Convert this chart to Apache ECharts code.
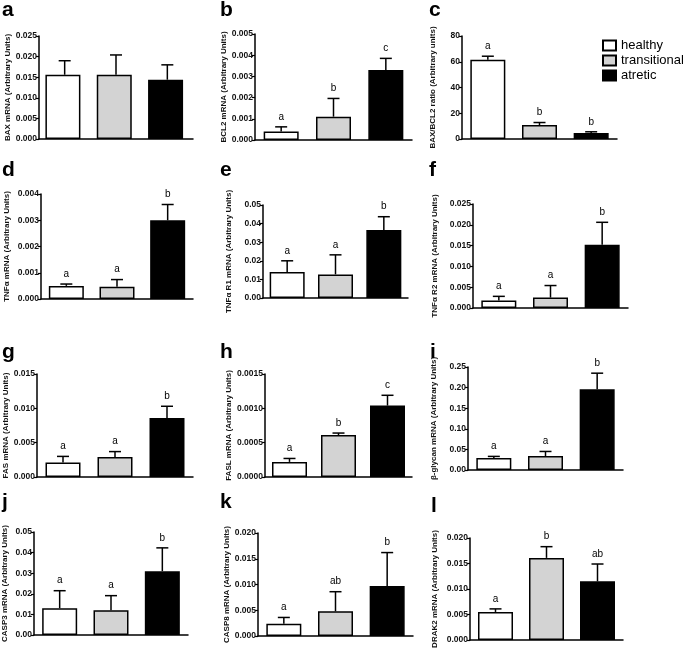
<!DOCTYPE html>
<html>
<head>
<meta charset="utf-8">
<script src="https://cdn.jsdelivr.net/npm/echarts@6/dist/echarts.min.js"></script>
<style>html,body{margin:0;padding:0;background:#fff}#c{width:685px;height:652px}</style>
</head>
<body>
<div id="c"></div>
<script>
// ---------------- data ----------------
const categories = ['healthy', 'transitional', 'atretic'];
const panelLetters = ['a','b','c','d','e','f','g','h','i','j','k','l'];
const yTitles = [
  'BAX mRNA (Arbitrary Units)',
  'BCL2 mRNA (Arbitrary Units)',
  'BAX/BCL2 ratio (Arbitrary units)',
  'TNFα mRNA (Arbitrary Units)',
  'TNFα R1 mRNA (Arbitrary Units)',
  'TNFα R2 mRNA (Arbitrary Units)',
  'FAS mRNA (Arbitrary Units)',
  'FASL mRNA (Arbitrary Units)',
  'β-glycan mRNA (Arbitrary Units)',
  'CASP3 mRNA (Arbitrary Units)',
  'CASP8 mRNA (Arbitrary Units)',
  'DRAK2 mRNA (Arbitrary Units)'
];
// tick settings: [max, interval, decimals]
const yTicks = [
  [0.025, 0.005, 3],
  [0.005, 0.001, 3],
  [80, 20, 0],
  [0.004, 0.001, 3],
  [0.05, 0.01, 2],
  [0.025, 0.005, 3],
  [0.015, 0.005, 3],
  [0.0015, 0.0005, 4],
  [0.25, 0.05, 2],
  [0.05, 0.01, 2],
  [0.020, 0.005, 3],
  [0.020, 0.005, 3]
];
const baxMean = [0.0156, 0.0156, 0.0144];   const baxSem = [0.0034, 0.0048, 0.0036];   const baxSig = ['', '', ''];
const bcl2Mean = [0.0004, 0.0011, 0.0033];  const bcl2Sem = [0.00022, 0.00086, 0.00055]; const bcl2Sig = ['a', 'b', 'c'];
const ratioMean = [61.5, 10.8, 4.6];        const ratioSem = [2.8, 2.0, 1.0];            const ratioSig = ['a', 'b', 'b'];
const tnfMean = [0.0005, 0.00047, 0.0030];  const tnfSem = [0.00007, 0.00027, 0.0006];  const tnfSig = ['a', 'a', 'b'];
const tnfr1Mean = [0.0140, 0.0127, 0.0365]; const tnfr1Sem = [0.0060, 0.0105, 0.0072]; const tnfr1Sig = ['a', 'a', 'b'];
const tnfr2Mean = [0.0018, 0.0025, 0.0152]; const tnfr2Sem = [0.0010, 0.0029, 0.0054]; const tnfr2Sig = ['a', 'a', 'b'];
const fasMean = [0.0021, 0.0029, 0.0086];   const fasSem = [0.0009, 0.0008, 0.0017];    const fasSig = ['a', 'a', 'b'];
const faslMean = [0.00022, 0.00061, 0.00104]; const faslSem = [0.00005, 0.00003, 0.00015]; const faslSig = ['a', 'b', 'c'];
const bglyMean = [0.029, 0.034, 0.196];     const bglySem = [0.004, 0.011, 0.039];      const bglySig = ['a', 'a', 'b'];
const casp3Mean = [0.013, 0.012, 0.031];    const casp3Sem = [0.0085, 0.0071, 0.0113];  const casp3Sig = ['a', 'a', 'b'];
const casp8Mean = [0.0024, 0.0048, 0.0097]; const casp8Sem = [0.0012, 0.0038, 0.0065];  const casp8Sig = ['a', 'ab', 'b'];
const drak2Mean = [0.0055, 0.0161, 0.0115]; const drak2Sem = [0.0006, 0.0022, 0.0034]; const drak2Sig = ['a', 'b', 'ab'];

const means = [baxMean, bcl2Mean, ratioMean, tnfMean, tnfr1Mean, tnfr2Mean, fasMean, faslMean, bglyMean, casp3Mean, casp8Mean, drak2Mean];
const sems  = [baxSem, bcl2Sem, ratioSem, tnfSem, tnfr1Sem, tnfr2Sem, fasSem, faslSem, bglySem, casp3Sem, casp8Sem, drak2Sem];
const sigs  = [baxSig, bcl2Sig, ratioSig, tnfSig, tnfr1Sig, tnfr2Sig, fasSig, faslSig, bglySig, casp3Sig, casp8Sig, drak2Sig];

// ---------------- layout ----------------
// [axisX, axisEndX, topY, bottomY, nameGap, letterX, letterY]
const layout = [
  [39, 193, 36, 139, 27, 2, 0],
  [255, 412, 34, 140, 24, 220, 0],
  [462, 617, 36, 139, 25, 429, 0],
  [41, 193, 194, 299, 30, 2, 160],
  [263, 408, 205, 298, 30, 220, 160],
  [473, 628, 204, 308, 34, 429, 160],
  [37, 193, 374, 477, 27, 2, 342],
  [265, 412, 374, 477, 32, 220, 342],
  [468, 623, 367, 470, 30, 430, 342],
  [32, 188, 532, 635, 25, 2, 492],
  [258, 413, 533, 636, 27, 220, 492],
  [470, 623, 538, 640, 31, 431, 496]
];
const colors = ['#ffffff', '#d3d3d3', '#000000'];
const FONT = '"Liberation Sans", Arial, sans-serif';

const grids = [], xAxes = [], yAxes = [], series = [], titles = [];
layout.forEach((L, i) => {
  grids.push({left: L[0], top: L[2], width: L[1] - L[0], height: L[3] - L[2], containLabel: false});
  xAxes.push({
    gridIndex: i, type: 'category', data: categories,
    axisLine: {lineStyle: {color: '#000', width: 1.5}},
    axisTick: {alignWithLabel: true, length: 3, lineStyle: {color: '#000', width: 1.5}},
    axisLabel: {show: false}
  });
  const T = yTicks[i];
  yAxes.push({
    gridIndex: i, type: 'value', min: 0, max: T[0], interval: T[1],
    axisLine: {show: true, lineStyle: {color: '#000', width: 1.5}},
    axisTick: {show: true, length: 3, lineStyle: {color: '#000', width: 1.2}},
    splitLine: {show: false},
    axisLabel: {formatter: v => v.toFixed(T[2]), fontSize: 8.5, fontWeight: 'bold', color: '#111', margin: 2, fontFamily: FONT},
    name: yTitles[i], nameLocation: 'middle', nameGap: L[4],
    nameTextStyle: {fontSize: 8, fontWeight: 'bold', color: '#111', fontFamily: FONT}
  });
  series.push({
    type: 'bar', xAxisIndex: i, yAxisIndex: i, barWidth: 35, silent: true,
    data: means[i].map((v, k) => ({value: v, itemStyle: {color: colors[k], borderColor: '#000', borderWidth: 1.5}})),
    animation: false
  });
  series.push({
    type: 'custom', xAxisIndex: i, yAxisIndex: i, clip: false, silent: true, z: 5,
    data: means[i].map((v, k) => [k, v, v + sems[i][k]]),
    renderItem: (params, api) => {
      const k = api.value(0);
      const p0 = api.coord([k, api.value(1)]);
      const p1 = api.coord([k, api.value(2)]);
      const half = 6;
      const ls = {stroke: '#000', lineWidth: 1.5};
      const children = [
        {type: 'line', shape: {x1: p0[0], y1: p0[1], x2: p1[0], y2: p1[1]}, style: ls},
        {type: 'line', shape: {x1: p1[0] - half, y1: p1[1], x2: p1[0] + half, y2: p1[1]}, style: ls}
      ];
      const s = sigs[i][k];
      if (s) children.push({type: 'text', style: {text: s, x: p1[0], y: p1[1] - 5, align: 'center', verticalAlign: 'bottom', font: '10px ' + FONT, fill: '#000'}});
      return {type: 'group', children};
    },
    animation: false
  });
  titles.push({text: panelLetters[i], left: L[5], top: L[6], padding: 0,
    textStyle: {fontSize: 21, fontWeight: 'bold', color: '#000', fontFamily: FONT}});
});
// legend dummy series
categories.forEach((name, k) => {
  series.push({type: 'bar', name, xAxisIndex: 0, yAxisIndex: 0, data: [],
    itemStyle: {color: colors[k], borderColor: '#000', borderWidth: 1.5}});
});

const chart = echarts.init(document.getElementById('c'), null, {renderer: 'canvas'});
chart.setOption({
  animation: false,
  backgroundColor: '#fff',
  title: titles,
  grid: grids, xAxis: xAxes, yAxis: yAxes, series,
  legend: {
    data: categories, orient: 'vertical', left: 602, top: 39, padding: 0,
    itemWidth: 13, itemHeight: 10, itemGap: 2, icon: 'rect', selectedMode: false,
    textStyle: {fontSize: 13, color: '#000', fontFamily: FONT, lineHeight: 11, padding: [0, 0, 0, 0]}
  }
});
</script>
</body>
</html>
